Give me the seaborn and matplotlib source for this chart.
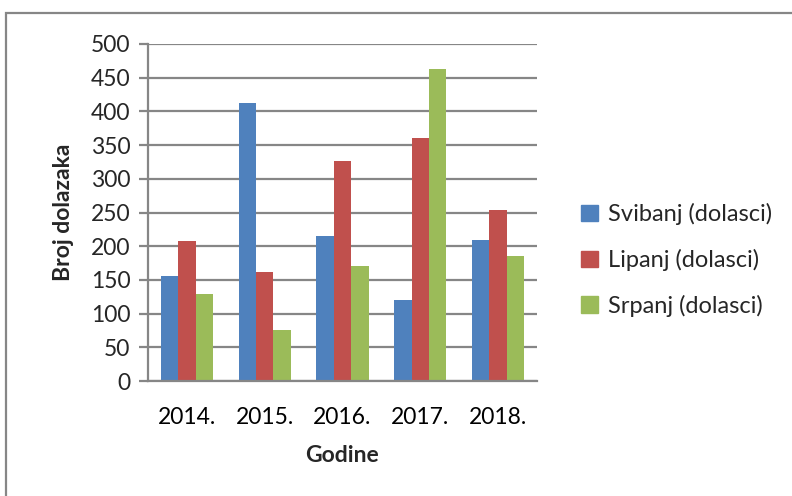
import pandas as pd
import matplotlib
matplotlib.use("Agg")
import matplotlib.pyplot as plt
from matplotlib.patches import Rectangle
import seaborn as sns

years = ["2014.", "2015.", "2016.", "2017.", "2018."]
series = ["Svibanj (dolasci)", "Lipanj (dolasci)", "Srpanj (dolasci)"]
svibanj = [156, 413, 215, 120, 209]
lipanj = [208, 162, 327, 360, 253]
srpanj = [129, 76, 171, 463, 186]
colors = ["#4F81BD", "#C0504D", "#9BBB59"]

rows = []
for name, vals in zip(series, [svibanj, lipanj, srpanj]):
    for y, v in zip(years, vals):
        rows.append({"Godine": y, "serija": name, "dolasci": v})
df = pd.DataFrame(rows)

sns.set_theme(style="white")
plt.rcParams["font.family"] = ["Lato", "DejaVu Sans"]
grid_col = "#868686"
fs = 16.5

fig = plt.figure(figsize=(7.92, 4.96), dpi=100)
ax = fig.add_axes([148 / 792, 1 - 381 / 496, (537 - 148) / 792, (381 - 44) / 496])

sns.barplot(data=df, x="Godine", y="dolasci", hue="serija", palette=colors,
            width=0.67, gap=0, linewidth=0, saturation=1, ax=ax, legend=False)

ax.set_ylim(0, 500)
ax.set_xlim(-0.5, 4.5)
ax.set_yticks(range(0, 501, 50))
ax.yaxis.grid(True, color=grid_col, linewidth=1.6)
ax.set_axisbelow(True)
for s in ["top", "right"]:
    ax.spines[s].set_visible(False)
for s in ["left", "bottom"]:
    ax.spines[s].set_color(grid_col)
    ax.spines[s].set_linewidth(1.6)

ax.set_xticks([i - 0.5 for i in range(6)], minor=True)
ax.tick_params(axis="x", which="major", length=0, pad=19, labelsize=fs, colors="black")
ax.tick_params(axis="x", which="minor", length=5, width=1.6, color=grid_col, direction="out")
ax.tick_params(axis="y", length=6.5, width=1.6, color=grid_col, direction="out",
               pad=6, labelsize=fs, left=True)
ax.set_xlabel("Godine", fontsize=fs, fontweight="bold", labelpad=12)
ax.set_ylabel("Broj dolazaka", fontsize=fs, fontweight="bold", labelpad=12)

handles = [Rectangle((0, 0), 1, 1, color=c) for c in colors]
fig.legend(handles, series, loc="center left", bbox_to_anchor=(560 / 792, 1 - 260 / 496),
           frameon=False, fontsize=17, handlelength=0.7, handleheight=0.7,
           handletextpad=0.45, labelspacing=1.0)

fig.add_artist(Rectangle((6 / 792, -0.1), 2, 1 - 13 / 496 + 0.1, transform=fig.transFigure,
                         fill=False, edgecolor=grid_col, linewidth=1.6))

fig.savefig("out.png", dpi=100)
